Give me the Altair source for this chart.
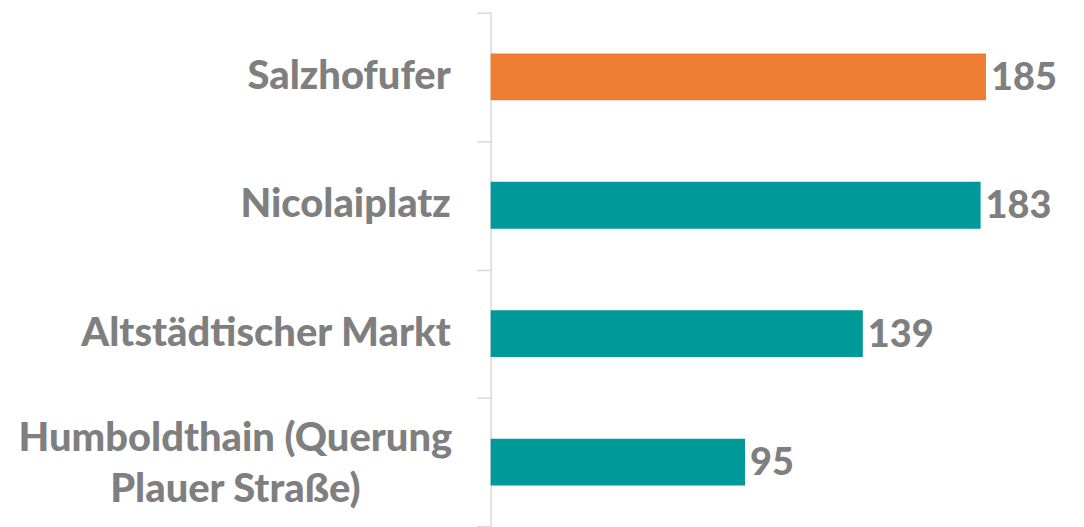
import altair as alt
import pandas as pd

categories = ["Salzhofufer", "Nicolaiplatz", "Altstädtischer Markt", "Humboldthain (Querung Plauer Straße)"]
display_labels = ["Salzhofufer", "Nicolaiplatz", "Altstädtischer Markt", "Humboldthain (Querung\nPlauer Straße)"]
values = [185, 183, 139, 95]
groups = ["highlight", "normal", "normal", "normal"]
label_styles = ["single", "single", "single", "multi"]

df = pd.DataFrame({
    "category": categories,
    "label": display_labels,
    "value": values,
    "group": groups,
    "style": label_styles,
})

GRAY = "#7f7f7f"
FONT = "Lato"

y_enc = alt.Y(
    "category:N",
    sort=categories,
    scale=alt.Scale(paddingInner=0, paddingOuter=0),
    axis=alt.Axis(
        title=None,
        labels=False,
        domainColor="#d9d9d9",
        domainWidth=1.5,
        tickColor="#d9d9d9",
        tickWidth=1.5,
        tickSize=14,
        tickBand="extent",
    ),
)

x_enc = alt.X("value:Q", scale=alt.Scale(domain=[0, 200], nice=False), axis=None)

bars = alt.Chart(df).mark_bar(size=47).encode(
    x=x_enc,
    y=y_enc,
    color=alt.Color(
        "group:N",
        scale=alt.Scale(domain=["highlight", "normal"], range=["#ed7d31", "#009999"]),
        legend=None,
    ),
)

values_text = alt.Chart(df).mark_text(
    align="left", baseline="middle", dx=5, dy=2,
    font=FONT, fontSize=38, fontWeight=900, color=GRAY,
).encode(x=x_enc, y=y_enc, text="value:Q")

single_labels = alt.Chart(df).transform_filter(
    alt.datum.style == "single"
).mark_text(
    align="right", baseline="middle", dy=0, font=FONT, fontSize=40,
    fontWeight=900, color=GRAY,
).encode(x=alt.value(-40), y=y_enc, text="label:N")

multi_labels = alt.Chart(df).transform_filter(
    alt.datum.style == "multi"
).mark_text(
    align="center", baseline="middle", font=FONT, fontSize=40,
    fontWeight=900, color=GRAY, lineBreak="\n", lineHeight=51, dy=-23,
).encode(x=alt.value(-256), y=y_enc, text="label:N")

chart = alt.layer(bars, values_text, single_labels, multi_labels).properties(
    width=537,
    height=515,
    autosize=alt.AutoSizeParams(type="none"),
    padding={"left": 484, "top": 4, "right": 50, "bottom": 0},
).configure_view(stroke=None)

chart.save("out.html", embed_options={"renderer": "svg", "actions": False})
